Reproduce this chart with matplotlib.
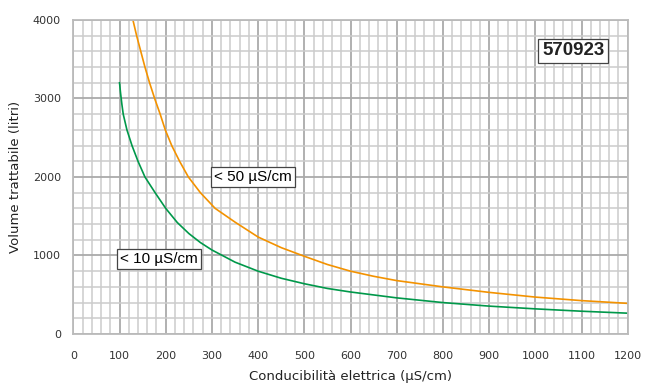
import numpy as np
import matplotlib.pyplot as plt
from matplotlib.ticker import MultipleLocator

# valori
cond_50 = [129, 137, 146, 155, 165, 176, 188, 199, 213, 230, 249, 275, 307, 350, 400, 450, 500,
           550, 600, 650, 700, 800, 900, 1000, 1100, 1200]
vol_50 = [4000, 3800, 3600, 3400, 3200, 3000, 2800, 2600, 2400, 2200, 2000, 1800, 1600, 1425, 1235, 1100, 990,
          885, 800, 735, 680, 600, 530, 470, 425, 390]

cond_10 = [100, 102, 105, 108, 116, 127, 140, 155, 177, 200, 225, 250, 275, 300, 350, 400, 450, 500,
           550, 600, 700, 800, 900, 1000, 1100, 1200]
vol_10 = [3200, 3080, 2930, 2800, 2600, 2400, 2200, 2000, 1800, 1600, 1420, 1280, 1165, 1070, 915, 800, 710, 640,
          580, 535, 460, 400, 355, 320, 290, 265]

x_ticks = [0, 100, 200, 300, 400, 500, 600, 700, 800, 900, 1000, 1100, 1200]
y_ticks = [0, 1000, 2000, 3000, 4000]

fig = plt.figure(figsize=(6.53, 3.92), dpi=100)
ax = fig.add_axes([0.1123, 0.148, 0.849, 0.801])

ax.set_xlim(0, 1200)
ax.set_ylim(0, 4000)
ax.set_xticks(x_ticks)
ax.set_yticks(y_ticks)
ax.xaxis.set_minor_locator(MultipleLocator(20))
ax.yaxis.set_minor_locator(MultipleLocator(200))
ax.grid(which='minor', color='#cccccc', lw=1.1)
ax.grid(which='major', color='#aaaaaa', lw=1.3)
ax.set_axisbelow(True)
for s in ax.spines.values():
    s.set_color('#bbbbbb')
    s.set_linewidth(1.3)
ax.tick_params(which='both', length=0, labelsize=8, labelcolor='#333333')
ax.tick_params(axis='x', pad=12)
ax.tick_params(axis='y', pad=9)

ax.plot(cond_50, vol_50, color='#f39200', lw=1.2)
ax.plot(cond_10, vol_10, color='#00984a', lw=1.2)

box = dict(boxstyle='square,pad=0.2', fc='white', ec='#444444', lw=0.9)
ax.text(388, 2000, '< 50 µS/cm', fontsize=11, family='Liberation Sans', ha='center', va='center', bbox=box)
ax.text(185, 958, '< 10 µS/cm', fontsize=11, family='Liberation Sans', ha='center', va='center', bbox=box)
ax.text(1082, 3605, '570923', fontsize=13.5, weight='bold', family='Liberation Sans', color='#222222',
        ha='center', va='center', bbox=box)

ax.set_xlabel('Conducibilità elettrica (µS/cm)', fontsize=9.5, color='#222222', labelpad=7)
ax.set_ylabel('Volume trattabile (litri)', fontsize=9.5, color='#222222', labelpad=8)

fig.savefig('out.png', dpi=100)
